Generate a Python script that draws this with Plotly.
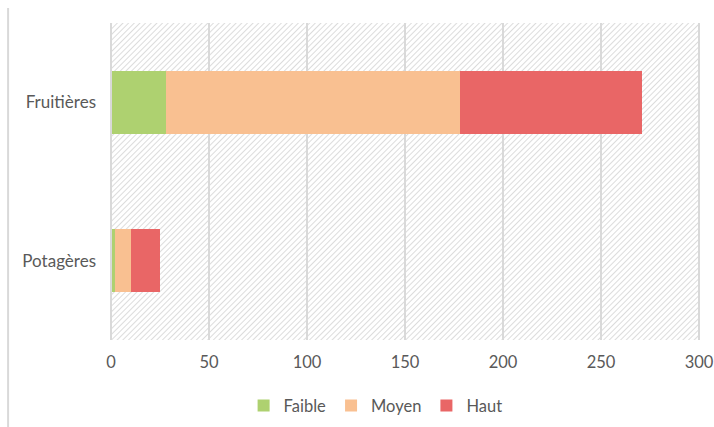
import plotly.graph_objects as go

categories = ["Potagères", "Fruitières"]
faible = [2, 28]
moyen = [8, 150]
haut = [15, 93]
series_names = ["Faible", "Moyen", "Haut"]
colors = ["#aed170", "#f9c091", "#e96666"]
x_ticks = [0, 50, 100, 150, 200, 250, 300]

fig = go.Figure()
for name, vals, col in zip(series_names, [faible, moyen, haut], colors):
    fig.add_trace(go.Bar(
        y=categories, x=vals, name=name, orientation="h",
        marker=dict(color=col, line=dict(width=0)),
    ))

svg = ("data:image/svg+xml;utf8,<svg xmlns='http://www.w3.org/2000/svg' width='588' height='317'>"
       "<defs><pattern id='p' width='4' height='4' patternUnits='userSpaceOnUse' patternTransform='rotate(45)'>"
       "<rect width='4' height='4' fill='white'/><line x1='0' y1='0' x2='0' y2='4' stroke='%23d4d4d4' stroke-width='1.6'/>"
       "</pattern></defs><rect width='588' height='317' fill='url(%23p)'/></svg>")

fig.update_layout(
    barmode="stack",
    bargap=0.605,
    width=714, height=427,
    margin=dict(l=111, r=15, t=23, b=87, autoexpand=False),
    paper_bgcolor="white",
    plot_bgcolor="rgba(0,0,0,0)",
    font=dict(family="Lato, Open Sans, sans-serif", size=17, color="#595959"),
    xaxis=dict(range=[0, 300], tickvals=x_ticks, showgrid=True, gridcolor="#d9d9d9",
               gridwidth=2, zeroline=False, showline=False, ticks="", tickfont=dict(size=16.5),
               layer="below traces", automargin=False, ticklabelstandoff=10),
    yaxis=dict(showgrid=False, ticks="", ticklabelstandoff=14, showline=False, zeroline=False,
               automargin=False, tickfont=dict(size=17)),
    legend=dict(orientation="h", x=0.45, xanchor="center", yref="container", y=0.05,
                yanchor="middle", font=dict(size=16.5), itemwidth=30, traceorder="normal"),
    images=[dict(source=svg, xref="paper", yref="paper", x=0, y=1, sizex=1, sizey=1,
                 sizing="stretch", layer="below", xanchor="left", yanchor="top")],
    shapes=[
        dict(type="line", xref="paper", yref="paper", x0=0, x1=0, y0=0, y1=1,
             line=dict(color="#d9d9d9", width=2)),
        dict(type="line", xref="paper", yref="paper", x0=1, x1=1, y0=0, y1=1,
             line=dict(color="#d9d9d9", width=2)),
        dict(type="line", xref="paper", yref="paper", x0=-0.175, x1=-0.175, y0=-0.4, y1=1.047,
             line=dict(color="#d9d9d9", width=2)),
    ],
)
fig.write_html("out.html", config={"displayModeBar": False},
               post_script="document.body.style.margin='0';document.body.style.overflow='hidden';")
